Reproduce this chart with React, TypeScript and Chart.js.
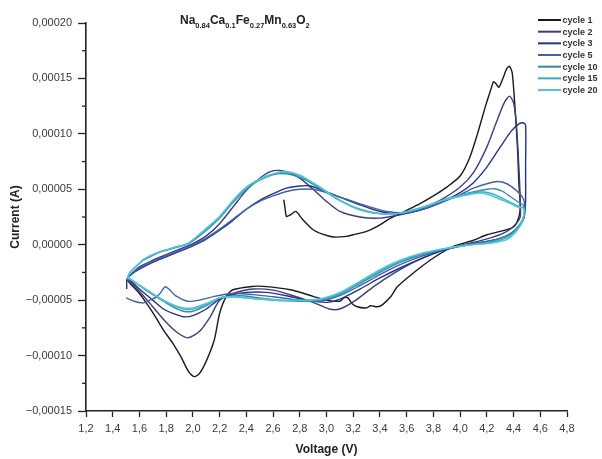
import React, { useEffect, useRef } from 'react';
import { Chart, registerables } from 'chart.js';

Chart.register(...registerables);

const FONT = "'Liberation Sans', Arial, sans-serif";
// currents are stored in units of 1e-5 A
const CURRENT_UNIT = 1e-5;

const legendLabels = ['cycle 1', 'cycle 2', 'cycle 3', 'cycle 5', 'cycle 10', 'cycle 15', 'cycle 20'];
const cycleColors = ['#1a1a1a', '#3d3d85', '#24338f', '#4262a8', '#3a86a8', '#36b0c0', '#4fc8d6'];

const titleParts: [string, boolean][] = [
  ['Na', false], ['0.84', true], ['Ca', false], ['0.1', true], ['Fe', false],
  ['0.27', true], ['Mn', false], ['0.63', true], ['O', false], ['2', true],
];

const yMinorTicks = [-0.000125, -0.000075, -0.000025, 0.000025, 0.000075, 0.000125, 0.000175];

const cycle1: [number, number][] = [
  [2.68, 4.06], [2.69, 3.3], [2.7, 2.55], [2.73, 2.7], [2.77, 3.0], [2.82, 2.3], [2.9, 1.35],
  [2.97, 0.95], [3.05, 0.7], [3.15, 0.75], [3.2, 0.9], [3.3, 1.2], [3.38, 1.65], [3.48, 2.4],
  [3.6, 3.1], [3.7, 3.7], [3.8, 4.4], [3.9, 5.2], [4.0, 6.2], [4.07, 7.8], [4.13, 10.0],
  [4.19, 12.5], [4.23, 14.0], [4.25, 14.7], [4.27, 14.5], [4.29, 14.2], [4.32, 15.0],
  [4.35, 15.9], [4.37, 16.1], [4.39, 15.5], [4.41, 12.5], [4.43, 8.6], [4.44, 5.5], [4.45, 3.5],
  [4.44, 2.5], [4.4, 1.6], [4.3, 1.2], [4.2, 0.9], [4.1, 0.4], [3.95, -0.15], [3.8, -1.2],
  [3.65, -2.55], [3.53, -3.8], [3.48, -4.7], [3.42, -5.4], [3.38, -5.6], [3.33, -5.5],
  [3.3, -5.7], [3.23, -5.6], [3.19, -5.3], [3.16, -4.8], [3.13, -4.8], [3.1, -5.1], [3.0, -5.0],
  [2.9, -4.66], [2.73, -4.06], [2.53, -3.76], [2.45, -3.76], [2.3, -4.06], [2.25, -4.66],
  [2.2, -6.2], [2.16, -8.6], [2.1, -10.5], [2.05, -11.6], [2.01, -11.9], [1.97, -11.5],
  [1.91, -10.1], [1.85, -8.9], [1.78, -7.7], [1.72, -6.5], [1.66, -5.4], [1.6, -4.4],
  [1.53, -3.5], [1.51, -3.2],
];

const cycle2: [number, number][] = [
  [1.51, -3.0], [1.6, -2.0], [1.7, -1.4], [1.8, -0.9], [1.9, -0.4], [2.0, 0.1], [2.1, 0.8],
  [2.2, 1.9], [2.3, 3.4], [2.4, 4.9], [2.5, 6.0], [2.58, 6.6], [2.65, 6.7], [2.72, 6.5],
  [2.8, 6.0], [2.9, 5.0], [3.0, 3.9], [3.1, 3.0], [3.25, 2.5], [3.4, 2.4], [3.55, 2.7],
  [3.7, 3.2], [3.85, 4.0], [4.0, 5.2], [4.1, 6.5], [4.2, 8.8], [4.27, 11.0], [4.33, 12.8],
  [4.37, 13.4], [4.4, 12.8], [4.42, 11.0], [4.44, 7.0], [4.45, 4.0], [4.45, 2.5],
  [4.42, 1.9], [4.35, 1.2], [4.25, 0.7], [4.1, 0.2], [3.95, -0.2], [3.8, -0.8], [3.65, -1.6],
  [3.5, -2.6], [3.35, -3.8], [3.22, -5.0], [3.1, -5.8], [3.02, -5.8], [2.9, -5.2],
  [2.75, -4.6], [2.6, -4.1], [2.45, -4.0], [2.3, -4.4], [2.2, -5.0], [2.13, -6.5],
  [2.05, -7.8], [1.96, -8.4], [1.88, -7.9], [1.8, -7.0], [1.7, -5.6], [1.6, -4.2],
  [1.53, -3.3], [1.51, -3.0],
];

const cycle3: [number, number][] = [
  [1.505, -4.0], [1.51, -3.0], [1.6, -2.2], [1.7, -1.6], [1.8, -1.1], [1.9, -0.6], [2.0, -0.1],
  [2.1, 0.5], [2.2, 1.3], [2.3, 2.2], [2.4, 3.2], [2.5, 4.0], [2.6, 4.6], [2.7, 5.1],
  [2.8, 5.3], [2.88, 5.3], [2.95, 5.0], [3.1, 4.3], [3.25, 3.6], [3.4, 3.0], [3.55, 2.8],
  [3.7, 3.1], [3.85, 3.8], [4.0, 4.7], [4.1, 5.6], [4.2, 7.0], [4.3, 8.8], [4.38, 10.2],
  [4.44, 10.9], [4.47, 11.0], [4.49, 10.8], [4.49, 7.0], [4.49, 4.0], [4.48, 2.5],
  [4.45, 1.8], [4.38, 1.0], [4.28, 0.5], [4.15, 0.2], [4.0, -0.15], [3.85, -0.6],
  [3.7, -1.3], [3.55, -2.1], [3.4, -3.0], [3.25, -4.0], [3.1, -4.9], [3.0, -5.2],
  [2.85, -5.0], [2.7, -4.6], [2.55, -4.3], [2.4, -4.3], [2.3, -4.5], [2.2, -4.9],
  [2.1, -5.8], [2.0, -6.4], [1.93, -6.5], [1.85, -6.2], [1.78, -5.8], [1.7, -5.0],
  [1.6, -4.0], [1.53, -3.2], [1.51, -3.0],
];

const cycle5: [number, number][] = [
  [1.51, -3.0], [1.6, -2.1], [1.7, -1.5], [1.8, -1.0], [1.9, -0.5], [2.0, 0.0], [2.1, 0.6],
  [2.2, 1.4], [2.3, 2.3], [2.4, 3.2], [2.5, 3.9], [2.6, 4.4], [2.7, 4.8], [2.8, 5.0],
  [2.9, 5.0], [3.0, 4.7], [3.15, 4.1], [3.3, 3.5], [3.45, 3.0], [3.6, 2.9], [3.75, 3.3],
  [3.9, 4.0], [4.0, 4.5], [4.1, 5.1], [4.2, 5.5], [4.28, 5.7], [4.35, 5.5], [4.42, 4.9],
  [4.46, 4.4], [4.48, 3.9], [4.48, 2.8], [4.45, 1.8], [4.38, 1.0], [4.28, 0.5], [4.15, 0.2],
  [4.0, -0.1], [3.85, -0.5], [3.7, -1.1], [3.55, -1.8], [3.4, -2.7], [3.25, -3.7],
  [3.1, -4.6], [2.95, -5.1], [2.8, -5.0], [2.6, -4.7], [2.45, -4.5], [2.3, -4.4],
  [2.16, -4.66], [2.05, -5.0], [1.96, -5.1], [1.87, -4.6], [1.82, -4.0], [1.79, -3.8],
  [1.76, -4.3], [1.73, -4.7], [1.68, -5.0], [1.63, -5.25], [1.56, -5.1], [1.5, -4.8],
];

const cycle10: [number, number][] = [
  [1.51, -3.0], [1.53, -2.5], [1.58, -1.9], [1.63, -1.4], [1.7, -0.95], [1.76, -0.65],
  [1.86, -0.3], [1.96, 0.05], [2.06, 0.9], [2.13, 1.6], [2.2, 2.4], [2.3, 3.8], [2.4, 5.0],
  [2.48, 5.7], [2.55, 6.1], [2.63, 6.4], [2.7, 6.4], [2.77, 6.2], [2.85, 5.8], [2.95, 5.1],
  [3.1, 4.0], [3.25, 3.2], [3.4, 2.8], [3.55, 2.85], [3.7, 3.3], [3.8, 3.7], [3.9, 4.1],
  [4.0, 4.45], [4.1, 4.75], [4.2, 5.0], [4.26, 5.05], [4.32, 4.8], [4.38, 4.3], [4.43, 3.9],
  [4.47, 3.6], [4.48, 3.3], [4.48, 2.6], [4.45, 1.9], [4.4, 1.2], [4.33, 0.7], [4.25, 0.35],
  [4.15, 0.15], [4.0, -0.1], [3.85, -0.45], [3.7, -0.95], [3.55, -1.6], [3.4, -2.5],
  [3.25, -3.5], [3.1, -4.5], [2.95, -5.0], [2.8, -5.1], [2.65, -5.0], [2.5, -4.8],
  [2.35, -4.6], [2.2, -4.8], [2.1, -5.5], [2.0, -6.0], [1.93, -6.0], [1.85, -5.6],
  [1.78, -5.1], [1.66, -4.2], [1.58, -3.5], [1.53, -3.1], [1.51, -3.0],
];

const cycle15: [number, number][] = [
  [1.51, -3.0], [1.53, -2.5], [1.58, -1.9], [1.63, -1.35], [1.7, -0.9], [1.76, -0.6],
  [1.86, -0.25], [1.96, 0.1], [2.06, 1.0], [2.13, 1.7], [2.2, 2.5], [2.3, 3.9], [2.4, 5.1],
  [2.48, 5.75], [2.55, 6.15], [2.63, 6.45], [2.7, 6.55], [2.77, 6.35], [2.85, 5.9],
  [2.95, 5.2], [3.1, 4.0], [3.25, 3.15], [3.4, 2.8], [3.55, 2.85], [3.7, 3.3], [3.8, 3.7],
  [3.9, 4.15], [4.0, 4.45], [4.1, 4.7], [4.18, 4.75], [4.25, 4.55], [4.32, 4.15],
  [4.38, 3.8], [4.43, 3.5], [4.47, 3.35], [4.48, 3.2], [4.48, 2.7], [4.46, 1.9],
  [4.42, 1.3], [4.37, 0.75], [4.3, 0.4], [4.2, 0.15], [4.05, -0.05], [3.88, -0.4],
  [3.7, -0.85], [3.55, -1.5], [3.4, -2.35], [3.25, -3.4], [3.1, -4.4], [2.95, -4.95],
  [2.8, -5.05], [2.65, -5.05], [2.5, -4.9], [2.4, -4.8], [2.3, -4.7], [2.2, -4.8],
  [2.1, -5.4], [2.0, -5.8], [1.93, -5.8], [1.85, -5.5], [1.78, -5.05], [1.66, -4.15],
  [1.58, -3.5], [1.53, -3.1], [1.51, -3.0],
];

const cycle20: [number, number][] = [
  [1.51, -3.0], [1.53, -2.55], [1.58, -1.9], [1.63, -1.35], [1.7, -0.9], [1.76, -0.6],
  [1.86, -0.25], [1.96, 0.1], [2.06, 1.05], [2.13, 1.8], [2.2, 2.55], [2.3, 4.0], [2.4, 5.2],
  [2.48, 5.8], [2.55, 6.2], [2.63, 6.5], [2.7, 6.6], [2.77, 6.4], [2.83, 6.1], [2.95, 5.2],
  [3.1, 4.0], [3.25, 3.15], [3.4, 2.8], [3.55, 2.85], [3.7, 3.3], [3.8, 3.7], [3.9, 4.1],
  [4.0, 4.35], [4.1, 4.6], [4.15, 4.65], [4.2, 4.55], [4.25, 4.35], [4.32, 4.0],
  [4.38, 3.7], [4.43, 3.4], [4.47, 3.3], [4.48, 3.2], [4.48, 2.8], [4.46, 2.0], [4.43, 1.35],
  [4.39, 0.8], [4.35, 0.45], [4.28, 0.25], [4.2, 0.1], [4.05, -0.05], [3.88, -0.35],
  [3.7, -0.8], [3.55, -1.4], [3.4, -2.25], [3.25, -3.3], [3.1, -4.3], [2.95, -4.9],
  [2.8, -5.0], [2.65, -5.0], [2.5, -4.9], [2.4, -4.8], [2.3, -4.7], [2.2, -4.8], [2.1, -5.3],
  [2.0, -5.7], [1.93, -5.7], [1.85, -5.4], [1.78, -5.0], [1.66, -4.1], [1.58, -3.5],
  [1.53, -3.1], [1.51, -3.0],
];

const cycles = [cycle1, cycle2, cycle3, cycle5, cycle10, cycle15, cycle20];

const formatY = (v: number) => {
  if (Math.abs(v) < 1e-12) return '0,00000';
  const s = Math.abs(v).toFixed(5).replace('.', ',');
  return v < 0 ? '\u2212' + s : s;
};
const formatX = (v: number) => v.toFixed(1).replace('.', ',');

const overlayPlugin = {
  id: 'overlay',
  afterDraw(chart: any) {
    const { ctx, chartArea } = chart;
    const ys = chart.scales.y;
    ctx.save();
    // minor y ticks
    ctx.strokeStyle = '#222';
    ctx.lineWidth = 1.3;
    for (const v of yMinorTicks) {
      const py = ys.getPixelForValue(v);
      ctx.beginPath();
      ctx.moveTo(chartArea.left - 4, py);
      ctx.lineTo(chartArea.left, py);
      ctx.stroke();
    }
    // title with subscripts
    let x = 180;
    ctx.fillStyle = '#222';
    ctx.textBaseline = 'alphabetic';
    ctx.textAlign = 'left';
    for (const [txt, sub] of titleParts) {
      ctx.font = sub ? `bold 7.5px ${FONT}` : `bold 12px ${FONT}`;
      ctx.fillText(txt, x, sub ? 27.5 : 23.5);
      x += ctx.measureText(txt).width;
    }
    // legend
    ctx.font = `bold 9px ${FONT}`;
    ctx.textBaseline = 'middle';
    legendLabels.forEach((label, i) => {
      const y = 20 + i * 11.67;
      ctx.strokeStyle = cycleColors[i];
      ctx.lineWidth = 2;
      ctx.beginPath();
      ctx.moveTo(538, y);
      ctx.lineTo(561, y);
      ctx.stroke();
      ctx.fillStyle = '#333';
      ctx.fillText(label, 562.5, y + 0.5);
    });
    ctx.restore();
  },
};

export default function App() {
  const ref = useRef<HTMLCanvasElement>(null);

  useEffect(() => {
    document.body.style.margin = '0';
    const canvas = ref.current;
    if (!canvas) return;
    const datasets = cycles.map((c, i) => ({
      label: legendLabels[i],
      data: c.map(([v, cur]) => ({ x: v, y: cur * CURRENT_UNIT })),
      showLine: true,
      borderColor: cycleColors[i],
      backgroundColor: cycleColors[i],
      borderWidth: 1.4,
      pointRadius: 0,
      tension: 0.25,
      fill: false,
      order: cycles.length - i,
    }));
    const chart = new Chart(canvas, {
      type: 'scatter',
      data: { datasets },
      options: {
        animation: false,
        responsive: false,
        maintainAspectRatio: false,
        layout: { padding: { left: 0, top: 23, right: 35, bottom: 0 } },
        plugins: {
          legend: { display: false },
          tooltip: { enabled: false },
          title: { display: false },
        },
        scales: {
          x: {
            type: 'linear',
            min: 1.2,
            max: 4.8,
            afterFit: (s: any) => { s.height = 48; },
            ticks: {
              stepSize: 0.2,
              callback: (v: any) => formatX(Number(v)),
              color: '#3a3a3a',
              font: { family: FONT, size: 11 },
              padding: 5,
              maxRotation: 0,
              autoSkip: false,
            },
            grid: { display: true, drawOnChartArea: false, drawTicks: true, tickLength: 6, color: '#222', tickWidth: 1.3 },
            border: { display: true, color: '#222', width: 1.6 },
            title: {
              display: true,
              text: 'Voltage (V)',
              color: '#222',
              font: { family: FONT, size: 12, weight: 'bold' },
              padding: { top: 0, bottom: 2 },
            },
          },
          y: {
            type: 'linear',
            min: -0.00015,
            max: 0.0002,
            afterFit: (s: any) => { s.width = 86; },
            ticks: {
              stepSize: 0.00005,
              callback: (v: any) => formatY(Number(v)),
              color: '#3a3a3a',
              font: { family: FONT, size: 11 },
              padding: 6,
              autoSkip: false,
            },
            grid: { display: true, drawOnChartArea: false, drawTicks: true, tickLength: 8, color: '#222', tickWidth: 1.3 },
            border: { display: true, color: '#222', width: 1.6 },
            title: {
              display: true,
              text: 'Current (A)',
              color: '#222',
              font: { family: FONT, size: 12, weight: 'bold' },
              padding: { top: 8, bottom: 0 },
            },
          },
        },
      },
      plugins: [overlayPlugin],
    });
    return () => chart.destroy();
  }, []);

  return (
    <div style={{ position: 'fixed', left: 0, top: 0, width: 602, height: 459, background: '#fff' }}>
      <canvas ref={ref} width={602} height={459} style={{ width: 602, height: 459 }} />
    </div>
  );
}
